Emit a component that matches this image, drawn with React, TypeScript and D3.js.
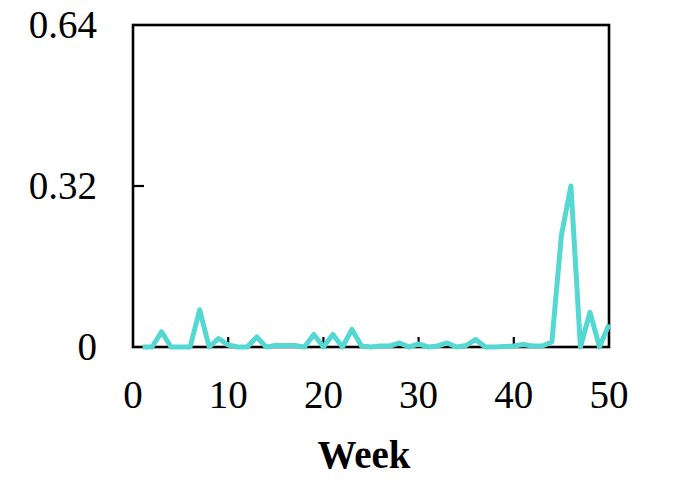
import React from 'react';
import * as d3 from 'd3';

const weeks = [
  1, 2, 3, 4, 5, 6, 7, 8, 9, 10, 11, 12, 13, 14, 15, 16, 17, 18, 19, 20, 21, 22, 23, 24, 25,
  26, 27, 28, 29, 30, 31, 32, 33, 34, 35, 36, 37, 38, 39, 40, 41, 42, 43, 44, 45, 46, 47, 48, 49, 50,
];
const values = [
  0, 0, 0.03, 0, 0, 0, 0.074, 0, 0.017, 0.004, 0, 0, 0.02, 0, 0.003, 0.003, 0.003, 0, 0.025, 0,
  0.025, 0, 0.035, 0.002, 0, 0.002, 0.002, 0.008, 0, 0.006, 0, 0.002, 0.008, 0, 0.003, 0.015, 0, 0,
  0.001, 0.002, 0.005, 0.002, 0.002, 0.01, 0.222, 0.32, 0, 0.069, 0, 0.045,
];
const xTicks = [0, 10, 20, 30, 40, 50];
const yTicks = [0, 0.32, 0.64];
const yTickLabels = ['0', '0.32', '0.64'];

const width = 677;
const height = 495;
const margin = { top: 25, right: 68, bottom: 148, left: 133 };
const font = '"Liberation Serif", "Times New Roman", serif';
const fontSize = 39;

const App = () => {
  const x = d3
    .scaleLinear()
    .domain([0, 50])
    .range([margin.left, width - margin.right]);
  const y = d3
    .scaleLinear()
    .domain([0, 0.64])
    .range([height - margin.bottom, margin.top]);

  const line = d3
    .line<number>()
    .x((d, i) => x(weeks[i]))
    .y((d) => y(d));

  const x0 = x(0);
  const x1 = x(50);
  const y0 = y(0);
  const y1 = y(0.64);

  return (
    <svg
      width={width}
      height={height}
      style={{ position: 'absolute', left: 0, top: 0, background: '#fff' }}
      fontFamily={font}
    >
      {/* inward ticks */}
      <g stroke="#000" strokeWidth={2.2}>
        {xTicks.slice(1, -1).map((t) => (
          <line key={t} x1={x(t)} x2={x(t)} y1={y0} y2={y0 - 10} />
        ))}
        {yTicks.slice(1, -1).map((t) => (
          <line key={t} x1={x0} x2={x0 + 11} y1={y(t)} y2={y(t)} />
        ))}
      </g>
      <rect
        x={x0}
        y={y1}
        width={x1 - x0}
        height={y0 - y1}
        fill="none"
        stroke="#000"
        strokeWidth={2.6}
      />
      <path
        d={line(values) || ''}
        fill="none"
        stroke="#55d8d1"
        strokeWidth={5}
        strokeLinejoin="round"
      />
      <g fontSize={fontSize} fill="#000">
        {xTicks.map((t) => (
          <text key={t} x={x(t)} y={408} textAnchor="middle">
            {t}
          </text>
        ))}
        {yTicks.map((t, i) => (
          <text key={t} x={97} y={y(t)} dy="0.33em" textAnchor="end">
            {yTickLabels[i]}
          </text>
        ))}
        <text x={364} y={468} textAnchor="middle" fontWeight="bold">
          Week
        </text>
      </g>
    </svg>
  );
};

export default App;
